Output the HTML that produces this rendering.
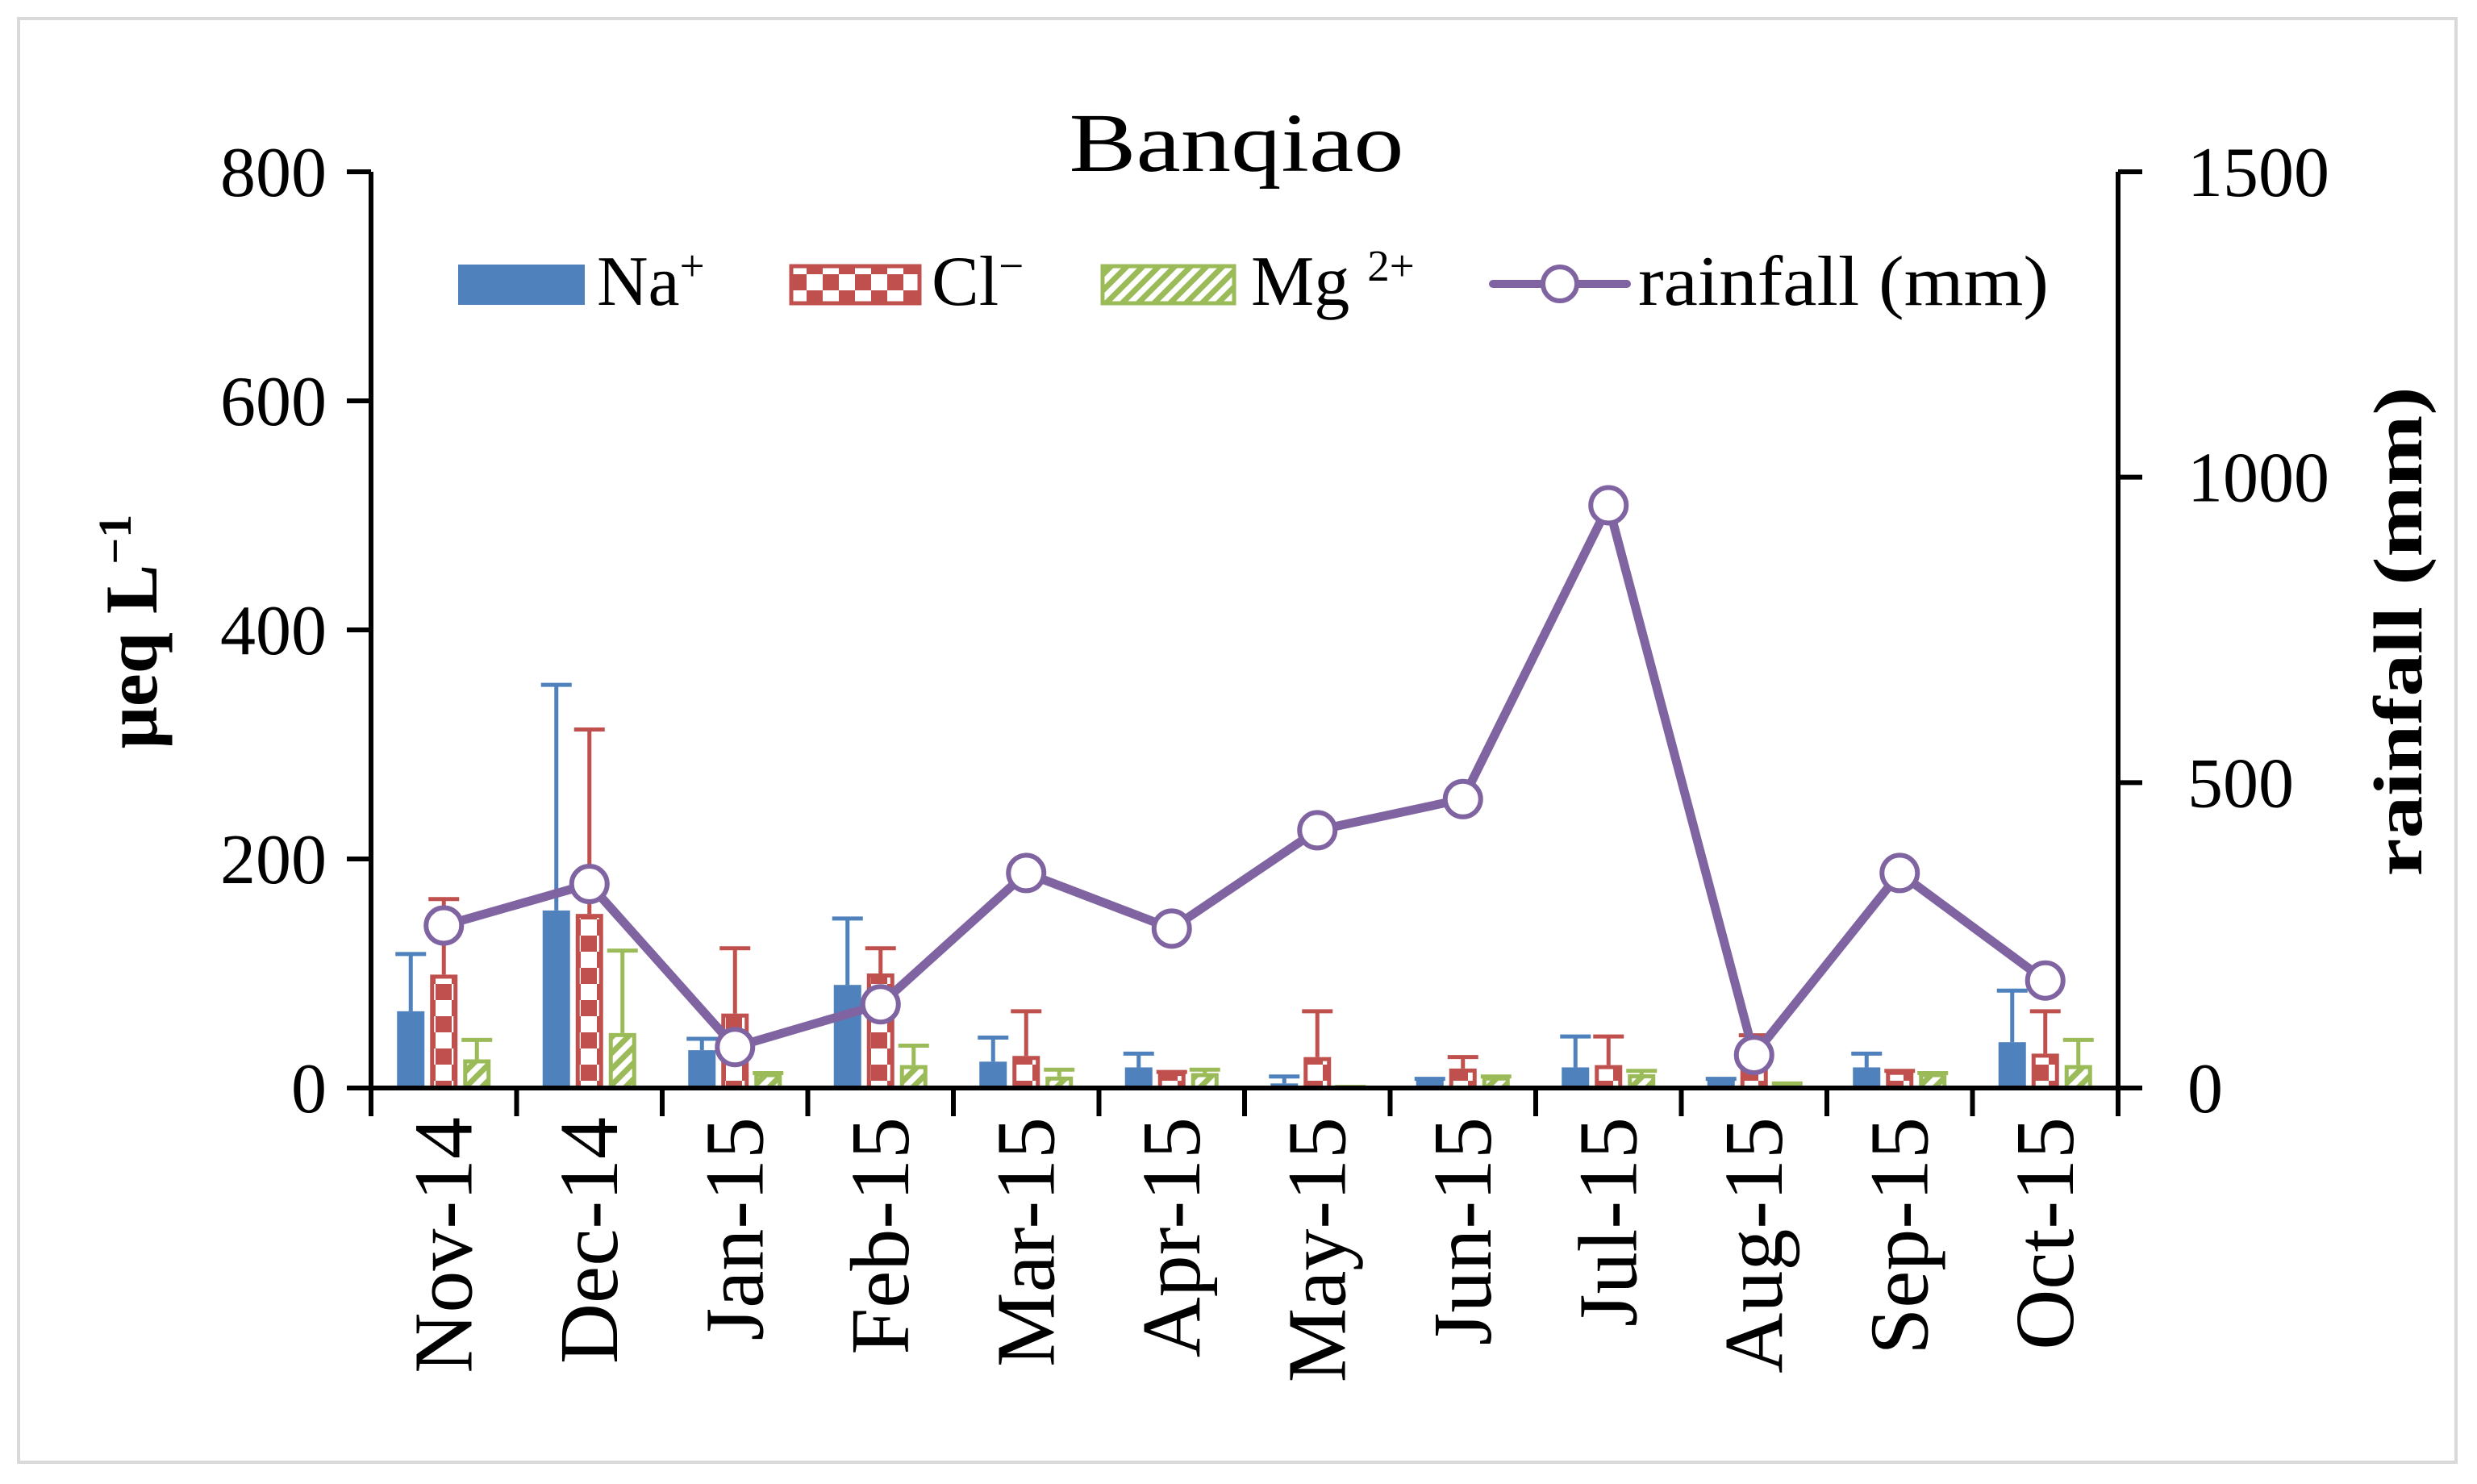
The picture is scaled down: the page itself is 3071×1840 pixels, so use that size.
<!DOCTYPE html>
<html><head><meta charset="utf-8"><style>
html,body{margin:0;padding:0;background:#fff;}
svg{display:block;font-family:"Liberation Serif",serif;}
</style></head><body>
<svg id="chart" width="3071" height="1840" viewBox="0 0 3071 1840" xmlns="http://www.w3.org/2000/svg">
<defs>
<pattern id="checker" width="40" height="40" patternUnits="userSpaceOnUse">
<rect width="40" height="40" fill="#fff"/><rect width="20" height="20" fill="#C0504D"/><rect x="20" y="20" width="20" height="20" fill="#C0504D"/>
</pattern>
<pattern id="hatch" width="14" height="14" patternUnits="userSpaceOnUse" patternTransform="rotate(45)">
<rect width="14" height="14" fill="#fff"/><rect width="7" height="14" fill="#9BBB59"/>
</pattern>
</defs>
<rect x="23" y="23" width="3022" height="1790" fill="#fff" stroke="#d9d9d9" stroke-width="4"/>
<text x="1533" y="212" font-size="104" text-anchor="middle" textLength="415" lengthAdjust="spacingAndGlyphs">Banqiao</text>
<g id="plot"></g>
<g>
<rect x="568" y="328" width="157" height="50" fill="#4F81BD"/>
<text x="740" y="378" font-size="88">Na<tspan font-size="55" dy="-30">+</tspan></text>
<rect x="981" y="330" width="159" height="46" fill="url(#checker)" stroke="#C0504D" stroke-width="5"/>
<text x="1155" y="378" font-size="88">Cl<tspan font-size="55" dy="-30">−</tspan></text>
<rect x="1367" y="330" width="163" height="46" fill="url(#hatch)" stroke="#9BBB59" stroke-width="5"/>
<text x="1551" y="378" font-size="88">Mg <tspan font-size="55" dy="-30">2+</tspan></text>
<line x1="1851" y1="352" x2="2017" y2="352" stroke="#8064A2" stroke-width="10" stroke-linecap="round"/>
<circle cx="1934" cy="352" r="21" fill="#fff" stroke="#8064A2" stroke-width="6"/>
<text x="2031" y="378" font-size="88" textLength="509" lengthAdjust="spacingAndGlyphs">rainfall (mm)</text>
</g>
<text transform="translate(194,783) rotate(-90)" font-size="92" font-weight="bold" text-anchor="middle">μeq L<tspan font-size="58" dy="-32">−1</tspan></text>
<text transform="translate(3002,783) rotate(-90)" font-size="86" font-weight="bold" text-anchor="middle" textLength="607" lengthAdjust="spacingAndGlyphs">rainfall (mm)</text>
</svg>
<script>
const categories = ["Nov-14","Dec-14","Jan-15","Feb-15","Mar-15","Apr-15","May-15","Jun-15","Jul-15","Aug-15","Sep-15","Oct-15"];
const naValues = [67,155,33,90,23,18,4,7,18,7,18,40];
const naErrors = [117,352,43,148,44,30,10,8,45,8,30,85];
const clValues = [99,152,65,100,28,14,27,17,20,22,15,30];
const clErrors = [165,313,122,122,67,14,67,27,45,46,15,67];
const mgValues = [25,48,13,20,10,13,1,10,12,4,13,20];
const mgErrors = [42,120,13,37,16,16,1,10,15,4,13,42];
const rainfall = [266,334,67,137,352,261,422,473,954,54,352,176];
const leftTicks = [0,200,400,600,800];
const rightTicks = [0,500,1000,1500];

const NS = "http://www.w3.org/2000/svg";
const X0 = 460, X1 = 2626, Y0 = 1349, Y1 = 213;
const catW = (X1 - X0) / categories.length;
const yL = v => Y0 - v / 800 * (Y0 - Y1);
const yR = v => Y0 - v / 1500 * (Y0 - Y1);
const xC = i => X0 + catW * (i + 0.5);
const plot = document.getElementById("plot");
function mk(tag, attrs) {
  const e = document.createElementNS(NS, tag);
  for (const k in attrs) e.setAttribute(k, attrs[k]);
  plot.appendChild(e);
  return e;
}
const series = [
  {vals: naValues, errs: naErrors, off: -41, fill: "#4F81BD", stroke: "none", color: "#4F81BD", name: "na"},
  {vals: clValues, errs: clErrors, off: 0, fill: "url(#checker)", stroke: "#C0504D", color: "#C0504D", name: "cl"},
  {vals: mgValues, errs: mgErrors, off: 41, fill: "url(#hatch)", stroke: "#9BBB59", color: "#9BBB59", name: "mg"}
];
const bw = 34;
series.forEach(s => {
  s.vals.forEach((v, i) => {
    const cx = xC(i) + s.off;
    const et = yL(s.errs[i]);
    const el = mk("line", {x1: cx, y1: yL(v), x2: cx, y2: et, stroke: s.color, "stroke-width": 5});
    
    
    const cap = mk("line", {x1: cx - bw/2 - 2, y1: et, x2: cx + bw/2 + 2, y2: et, stroke: s.color, "stroke-width": 5});
    
    
    const h = Y0 - yL(v);
    const sw = s.stroke === "none" ? 0 : 5;
    const r = mk("rect", {x: cx - bw/2 + sw/2, y: yL(v) + sw/2, width: bw - sw, height: Math.max(h - sw/2, 0), fill: s.fill, stroke: s.stroke, "stroke-width": sw});
    
    
  });
});
let a = mk("line", {x1: X0, y1: Y1, x2: X0, y2: Y0 + 3, stroke: "#000", "stroke-width": 6});


a = mk("line", {x1: X1, y1: Y1, x2: X1, y2: Y0 + 3, stroke: "#000", "stroke-width": 6});


a = mk("line", {x1: X0 - 30, y1: Y0, x2: X1 + 30, y2: Y0, stroke: "#000", "stroke-width": 6});


leftTicks.forEach(t => {
  const l = mk("line", {x1: X0 - 30, y1: yL(t), x2: X0, y2: yL(t), stroke: "#000", "stroke-width": 6});
  
  
  const tx = mk("text", {x: 405, y: yL(t) + 30, "font-size": 88, "text-anchor": "end"});
  tx.textContent = t;
  
  
});
rightTicks.forEach(t => {
  const l = mk("line", {x1: X1, y1: yR(t), x2: X1 + 30, y2: yR(t), stroke: "#000", "stroke-width": 6});
  
  
  const tx = mk("text", {x: 2712, y: yR(t) + 30, "font-size": 88});
  tx.textContent = t;
  
  
});
for (let i = 0; i <= categories.length; i++) {
  const x = X0 + catW * i;
  const l = mk("line", {x1: x, y1: Y0, x2: x, y2: Y0 + 35, stroke: "#000", "stroke-width": 6});
  
  
}
categories.forEach((c, i) => {
  const tx = mk("text", {transform: `translate(${xC(i) + 34},1385) rotate(-90)`, "font-size": 104, "text-anchor": "end"});
  tx.textContent = c;
  
  
});
const pts = rainfall.map((v, i) => xC(i) + "," + yR(v)).join(" ");
const pl = mk("polyline", {points: pts, fill: "none", stroke: "#8064A2", "stroke-width": 11, "stroke-linejoin": "round"});


rainfall.forEach((v, i) => {
  const c = mk("circle", {cx: xC(i), cy: yR(v), r: 22, fill: "#fff", stroke: "#8064A2", "stroke-width": 6});
  
  
});
</script>
</body></html>
